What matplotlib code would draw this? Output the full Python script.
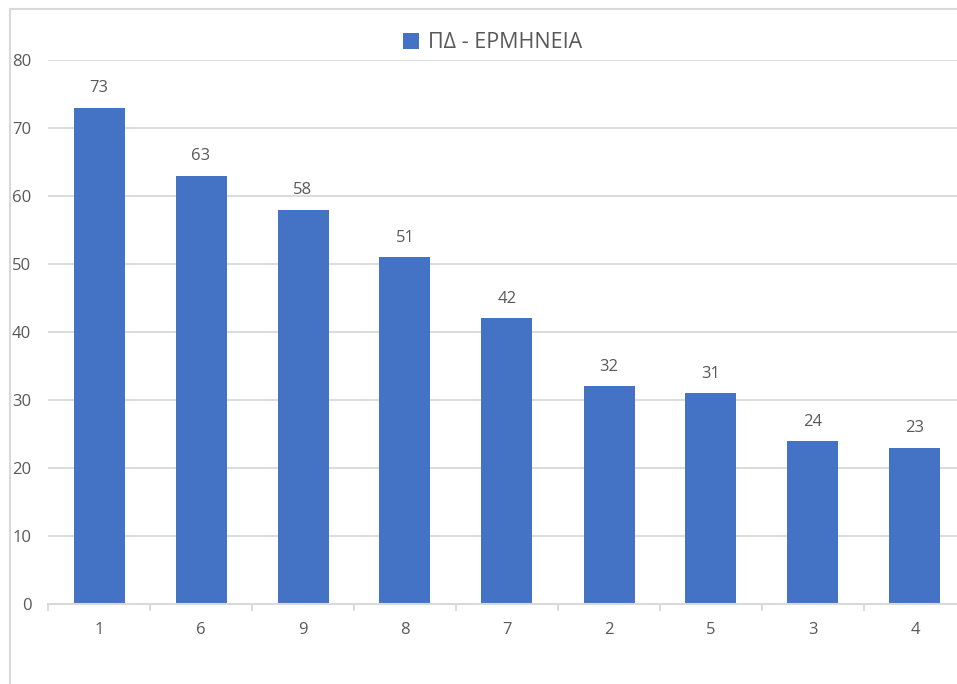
import matplotlib
matplotlib.use("Agg")
import matplotlib.pyplot as plt
from matplotlib.patches import Rectangle, Patch
import numpy as np

plt.rcParams['font.family'] = ['Open Sans', 'DejaVu Sans']

categories = ["1", "6", "9", "8", "7", "2", "5", "3", "4"]
values = [73, 63, 58, 51, 42, 32, 31, 24, 23]
series_name = "ΠΔ - ΕΡΜΗΝΕΙΑ"
yticks = [0, 10, 20, 30, 40, 50, 60, 70, 80]

W, H = 957, 684
fig = plt.figure(figsize=(W / 100, H / 100), dpi=100)

# chart border
fig.patches.append(Rectangle((9.5 / W, -0.1), 1.2, 1.1 - 9.5 / H, transform=fig.transFigure,
                             fill=False, edgecolor="#d9d9d9", linewidth=1.5))

x0, x1 = 48, 48 + 9 * 102
y0, y1 = 604, 60
ax = fig.add_axes([x0 / W, (H - y0) / H, (x1 - x0) / W, (y0 - y1) / H])

bar_color = "#4472c4"
text_color = "#595959"
grid_color = "#d9d9d9"

x = np.arange(len(categories))
ax.bar(x, values, width=0.5, color=bar_color, zorder=3)
for xi, v in zip(x, values):
    ax.annotate(str(v), (xi, v), xytext=(0, 8), textcoords="offset points",
                ha="center", va="bottom", fontsize=12, color=text_color)

ax.set_xlim(-0.5, len(categories) - 0.5)
ax.set_ylim(0, 80)
ax.set_yticks(yticks)
ax.set_yticklabels([str(t) for t in yticks])
ax.yaxis.grid(True, color=grid_color, linewidth=1.3, zorder=0)
ax.set_axisbelow(True)

ax.set_xticks(x)
ax.set_xticklabels(categories)
ax.set_xticks(np.arange(len(categories) + 1) - 0.5, minor=True)
ax.tick_params(axis="x", which="major", length=0, pad=13, labelsize=12, labelcolor=text_color)
ax.tick_params(axis="x", which="minor", length=5, width=1.3, color=grid_color)
ax.tick_params(axis="y", length=0, pad=12, labelsize=12, labelcolor=text_color)

for s in ["top", "right", "left"]:
    ax.spines[s].set_visible(False)
ax.spines["bottom"].set_color(grid_color)
ax.spines["bottom"].set_linewidth(1.5)
ax.spines["bottom"].set_zorder(4)

fig.legend(handles=[Patch(facecolor=bar_color, label=series_name)], loc="center",
           bbox_to_anchor=(493 / W, 1 - 43 / H), frameon=False, fontsize=15.5,
           handlelength=0.7, handleheight=0.7, handletextpad=0.45, labelcolor=text_color)

fig.savefig("out.png", dpi=100)
